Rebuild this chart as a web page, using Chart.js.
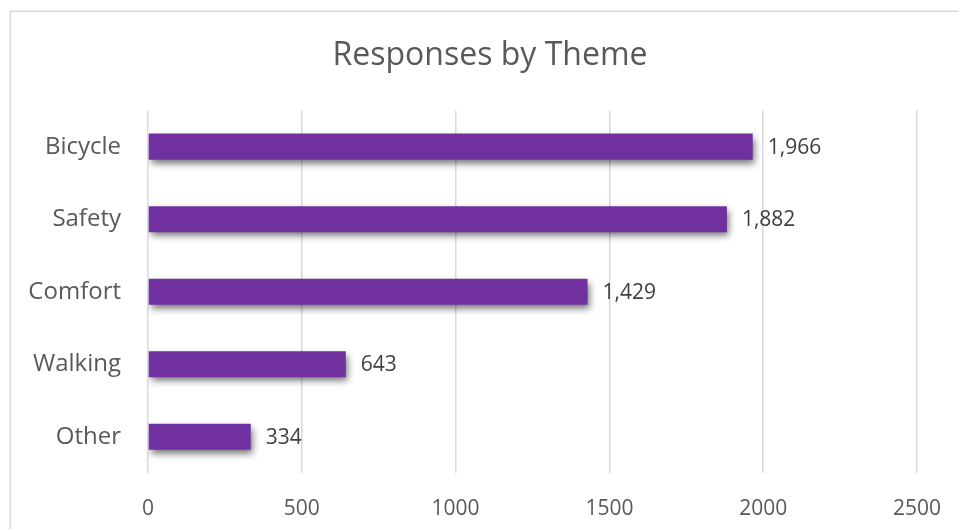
<!DOCTYPE html>
<html>
<head>
<meta charset="utf-8">
<script src="https://cdn.jsdelivr.net/npm/chart.js@4.4.0/dist/chart.umd.min.js"></script>
<style>
  html, body { margin: 0; padding: 0; background: #ffffff; }
  #c { display: block; }
</style>
</head>
<body>
<canvas id="c" width="959" height="529"></canvas>
<script>
const chartTitle = "Responses by Theme";
const categories = ["Bicycle", "Safety", "Comfort", "Walking", "Other"];
const responses = [1966, 1882, 1429, 643, 334];
const xTicks = [0, 500, 1000, 1500, 2000, 2500];

const FONT = "'Open Sans', 'Noto Sans', sans-serif";

const framePlugin = {
  id: 'frame',
  beforeDraw(chart) {
    const ctx = chart.ctx;
    ctx.save();
    ctx.fillStyle = '#ffffff';
    ctx.fillRect(0, 0, chart.width, chart.height);
    ctx.strokeStyle = '#d9d9d9';
    ctx.lineWidth = 1.5;
    ctx.strokeRect(10.25, 11.25, chart.width + 20, chart.height + 20);
    ctx.restore();
  }
};

const shadowLabelPlugin = {
  id: 'shadowLabels',
  beforeDatasetsDraw(chart) {
    const ctx = chart.ctx;
    ctx.save();
    ctx.shadowColor = 'rgba(0,0,0,0.55)';
    ctx.shadowBlur = 7;
    ctx.shadowOffsetX = 2;
    ctx.shadowOffsetY = 4;
  },
  afterDatasetsDraw(chart) {
    const ctx = chart.ctx;
    ctx.restore();
    const meta = chart.getDatasetMeta(0);
    ctx.save();
    ctx.font = "21px " + FONT;
    ctx.fillStyle = '#404040';
    ctx.textAlign = 'left';
    ctx.textBaseline = 'middle';
    meta.data.forEach((bar, i) => {
      const v = chart.data.datasets[0].data[i];
      ctx.fillText(v.toLocaleString('en-US'), bar.x + 15, bar.y + 1);
    });
    ctx.restore();
  }
};

new Chart(document.getElementById('c'), {
  type: 'bar',
  data: {
    labels: categories,
    datasets: [{
      data: responses,
      backgroundColor: '#7030A0',
      borderWidth: 0,
      categoryPercentage: 1,
      barPercentage: 0.36
    }]
  },
  options: {
    indexAxis: 'y',
    responsive: false,
    animation: false,
    layout: { padding: { left: 21, right: 0, top: 0, bottom: 0 } },
    plugins: {
      legend: { display: false },
      tooltip: { enabled: false },
      title: {
        display: true,
        text: chartTitle,
        color: '#595959',
        font: { family: FONT, size: 32, weight: 'normal' },
        padding: { top: 37, bottom: 35 }
      }
    },
    scales: {
      x: {
        min: xTicks[0],
        max: xTicks[xTicks.length - 1],
        afterBuildTicks(scale) { scale.ticks = xTicks.map(v => ({ value: v })); },
        ticks: {
          color: '#595959',
          font: { family: FONT, size: 21 },
          padding: 23,
          maxRotation: 0,
          callback: (v) => String(v)
        },
        grid: { color: '#d9d9d9', lineWidth: 1.5, drawTicks: false },
        border: { display: false },
        afterFit(scale) {
          scale.height = 56;
          scale.paddingRight = 42;
          scale.paddingLeft = 0;
        }
      },
      y: {
        ticks: {
          color: '#595959',
          font: { family: FONT, size: 24 },
          padding: 27
        },
        grid: { display: false, drawTicks: false },
        border: { display: false },
        afterFit(scale) { scale.width = 127; }
      }
    }
  },
  plugins: [framePlugin, shadowLabelPlugin]
});
</script>
</body>
</html>
